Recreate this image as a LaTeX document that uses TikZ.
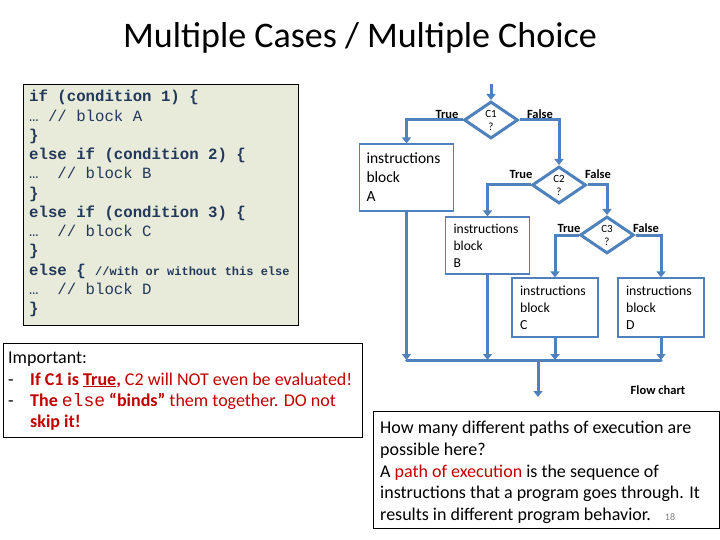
\documentclass[tikz,border=0pt]{standalone}
\usepackage{fontspec}
\setmainfont{Carlito}
\newfontfamily\codefont{Liberation Mono}
\usetikzlibrary{shapes.geometric,arrows.meta}
\definecolor{flow}{HTML}{4F81BD}
\definecolor{codeblue}{HTML}{23395B}
\definecolor{codebg}{HTML}{E9EBDA}
\definecolor{imred}{HTML}{C00000}
\tikzset{
  arr/.style={draw=flow, line width=3pt, -{Triangle[length=6pt,width=9pt]}},
  flowline/.style={draw=flow, line width=3pt},
  cond/.style={diamond, draw=flow, line width=3pt, minimum width=54pt, minimum height=37pt, inner sep=0pt, align=center, font=\fontsize{11}{13}\selectfont},
  instbox/.style={draw=flow, line width=1.2pt, align=left, inner ysep=0pt},
  tflabel/.style={font=\bfseries\fontsize{12.5}{14}\selectfont, inner sep=0pt},
}
\begin{document}
\begin{tikzpicture}[x=1pt,y=-1pt]
\useasboundingbox (0,0) rectangle (720,540);
% title
\node[font=\fontsize{36}{40}\selectfont] (title) at (360,38) {Multiple Cases / Multiple Choice};
% code box
\node[draw=black, line width=1pt, fill=codebg, anchor=north west, minimum width=275pt, minimum height=241pt, inner sep=0pt] (code) at (23,84) {};
\node[anchor=north west, inner sep=0pt, align=left, text=codeblue, font=\codefont\fontsize{15.7}{19.25}\selectfont] (codetext) at (29,90)
{\textbf{if (condition 1) \{}\\
… // block A\\
\textbf{\}}\\
\textbf{else if (condition 2) \{}\\
…\ \ // block B\\
\textbf{\}}\\
\textbf{else if (condition 3) \{}\\
…\ \ // block C\\
\textbf{\}}\\
\textbf{else \{ {\fontsize{12}{14}\selectfont //with or without this else}}\\
…\ \ // block D\\
\textbf{\}}};
% important box
\node[draw=black, line width=1pt, anchor=north west, minimum width=359pt, minimum height=94pt, inner sep=0pt] (imp) at (3,343) {};
\node[anchor=north west, inner sep=0pt, align=left, font=\fontsize{18}{21.3}\selectfont] (imptext) at (8,352)
{Important:\\
\makebox[22pt][l]{-}\textcolor{imred}{\textbf{If C1 is \underline{True},} C2 will NOT even be evaluated!}\\
\makebox[22pt][l]{-}\textcolor{imred}{\textbf{The} {\codefont else} \textbf{“binds”} them together. DO not}\\
\makebox[22pt][l]{}\textcolor{imred}{\textbf{skip it!}}};
% flowchart
\coordinate (in) at (491,84);
\node[cond] (c1) at (491,120) {C1\\?};
\node[cond] (c2) at (559,185) {C2\\?};
\node[cond] (c3) at (607,235) {C3\\?};
\node[instbox, minimum width=91pt, minimum height=67pt, text width=80pt, inner xsep=7pt, font=\fontsize{15.5}{19}\selectfont] (bA) at (406.5,177.5) {instructions\\block\\A};
\node[instbox, minimum width=81pt, minimum height=57pt, text width=68pt, inner xsep=8pt, font=\fontsize{13.6}{17}\selectfont] (bB) at (487.5,245.5) {instructions\\block\\B};
\node[instbox, minimum width=84pt, minimum height=59pt, text width=70pt, inner xsep=8pt, font=\fontsize{13.8}{17}\selectfont] (bC) at (555,307.5) {instructions\\block\\C};
\node[instbox, minimum width=82pt, minimum height=59pt, text width=70pt, inner xsep=8pt, font=\fontsize{13.8}{17}\selectfont] (bD) at (661,307.5) {instructions\\block\\D};
\draw[arr] (in) -- (c1.north);
\draw[arr] (c1.west) -| (bA.north);
\draw[arr] (c1.east) -| (c2.north);
\draw[arr] (c2.west) -| (bB.north);
\draw[arr] (c2.east) -| (c3.north);
\draw[arr] (c3.west) -| (bC.north);
\draw[arr] (c3.east) -| (bD.north);
\node[tflabel] (t1) at (447,114) {True};
\node[tflabel] (f1) at (540,114) {False};
\node[tflabel] (t2) at (521,174) {True};
\node[tflabel] (f2) at (598,174) {False};
\node[tflabel] (t3) at (569,228) {True};
\node[tflabel] (f3) at (646,228) {False};
% merge
\coordinate (bar) at (538,360);
\coordinate (out) at (538,397);
\draw[arr] (bA.south) -- (bA.south |- bar);
\draw[arr] (bB.south) -- (bB.south |- bar);
\draw[arr] (bC.south) -- (bC.south |- bar);
\draw[arr] (bD.south) -- (bD.south |- bar);
\draw[flowline, line cap=round] (bA.south |- bar) -- (bD.south |- bar);
\draw[arr] (bar) -- (out);
\node[font=\bfseries\fontsize{12.5}{14}\selectfont] (fc) at (658,390) {Flow chart};
% question box
\node[draw=black, line width=1pt, anchor=north west, minimum width=346pt, minimum height=117pt, inner sep=0pt] (q) at (373,411) {};
\node[anchor=north west, inner sep=0pt, align=left, font=\fontsize{18}{21.7}\selectfont] (qtext) at (380,421)
{How many different paths of execution are\\
possible here?\\
A \textcolor{imred}{path of execution} is the sequence of\\
instructions that a program goes through. It\\
results in different program behavior.\hspace{14pt}{\color{gray}\fontsize{10}{12}\selectfont 18}};
\end{tikzpicture}
\end{document}
